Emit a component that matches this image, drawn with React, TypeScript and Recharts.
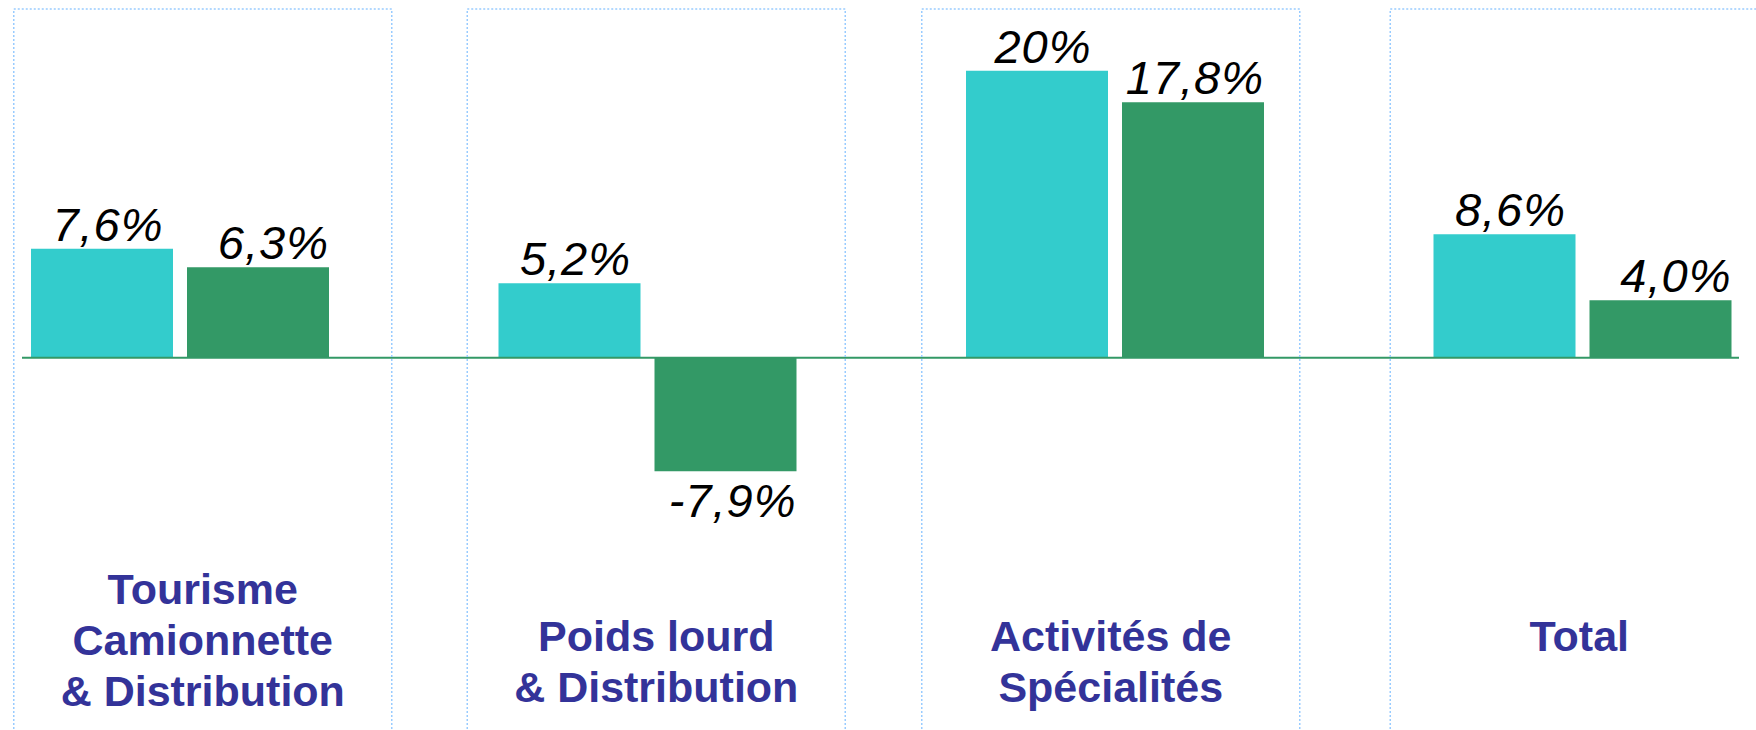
import { BarChart, Bar, XAxis, YAxis, ReferenceLine, LabelList } from "recharts";

// category labels, one entry per line
const categories = [
  ["Tourisme", "Camionnette", "& Distribution"],
  ["Poids lourd", "& Distribution"],
  ["Activités de", "Spécialités"],
  ["Total"],
];
const firstSeries = [7.6, 5.2, 20, 8.6];
const secondSeries = [6.3, -7.9, 17.8, 4.0];
const firstLabels = ["7,6%", "5,2%", "20%", "8,6%"];
const secondLabels = ["6,3%", "-7,9%", "17,8%", "4,0%"];

const data = categories.map((lines, i) => ({
  name: lines.join(" "),
  a: firstSeries[i],
  b: secondSeries[i],
  la: firstLabels[i],
  lb: secondLabels[i],
}));

const CYAN = "#33cccc";
const GREEN = "#339966";
const NAVY = "#333399";
const FONT = "'Liberation Sans', Arial, sans-serif";

// the text frames in the original sit a little off the bar groups
const frameNudge = [23, 9, -4, -3];

function CategoryTick(props: any) {
  const { x, y, payload } = props;
  const i = payload.index ?? props.index ?? 0;
  const lines = categories[i];
  const cx = x + frameNudge[i];
  const first = y + 121 - Math.max(0, lines.length - 2) * 47;
  return (
    <g>
      <rect
        x={cx - 189}
        y={9}
        width={378}
        height={800}
        fill="none"
        stroke="#99ccff"
        strokeWidth={1.5}
        strokeDasharray="2 2"
      />
      {lines.map((t, k) => (
        <text
          key={k}
          x={cx}
          y={first + k * 51}
          textAnchor="middle"
          fontFamily={FONT}
          fontWeight="bold"
          fontSize={43}
          fill={NAVY}
        >
          {t}
        </text>
      ))}
    </g>
  );
}

function valueLabel(align: "center" | "right") {
  return (props: any) => {
    const { x, y, width, height, value } = props;
    const top = Math.min(y, y + height);
    const bottom = Math.max(y, y + height);
    const negative = String(value).startsWith("-");
    const ty = negative ? bottom + 46 : top - 8;
    const tx = align === "center" ? x + width / 2 + 6 : x + width;
    return (
      <text
        x={tx}
        y={ty}
        textAnchor={align === "center" ? "middle" : "end"}
        fontFamily={FONT}
        fontStyle="italic"
        fontSize={47}
        letterSpacing={1}
        fill="#000"
      >
        {value}
      </text>
    );
  };
}

export default function App() {
  return (
    <div style={{ position: "absolute", left: 0, top: 0, width: 1756, height: 730, background: "#fff" }}>
      <BarChart
        width={1756}
        height={730}
        data={data}
        margin={{ top: 42, right: 17, bottom: 170, left: 22 }}
        barSize={142}
        barGap={14}
      >
        <XAxis
          dataKey="name"
          height={30}
          axisLine={false}
          tickLine={false}
          tickSize={0}
          tickMargin={0}
          interval={0}
          padding={{ left: -76, right: -77 }}
          tick={<CategoryTick />}
        />
        <YAxis hide domain={[-12, 22]} />
        <Bar dataKey="a" fill={CYAN} isAnimationActive={false}>
          <LabelList dataKey="la" content={valueLabel("center")} />
        </Bar>
        <Bar dataKey="b" fill={GREEN} isAnimationActive={false}>
          <LabelList dataKey="lb" content={valueLabel("right")} />
        </Bar>
        <ReferenceLine y={0} stroke={GREEN} strokeWidth={2} />
      </BarChart>
    </div>
  );
}
